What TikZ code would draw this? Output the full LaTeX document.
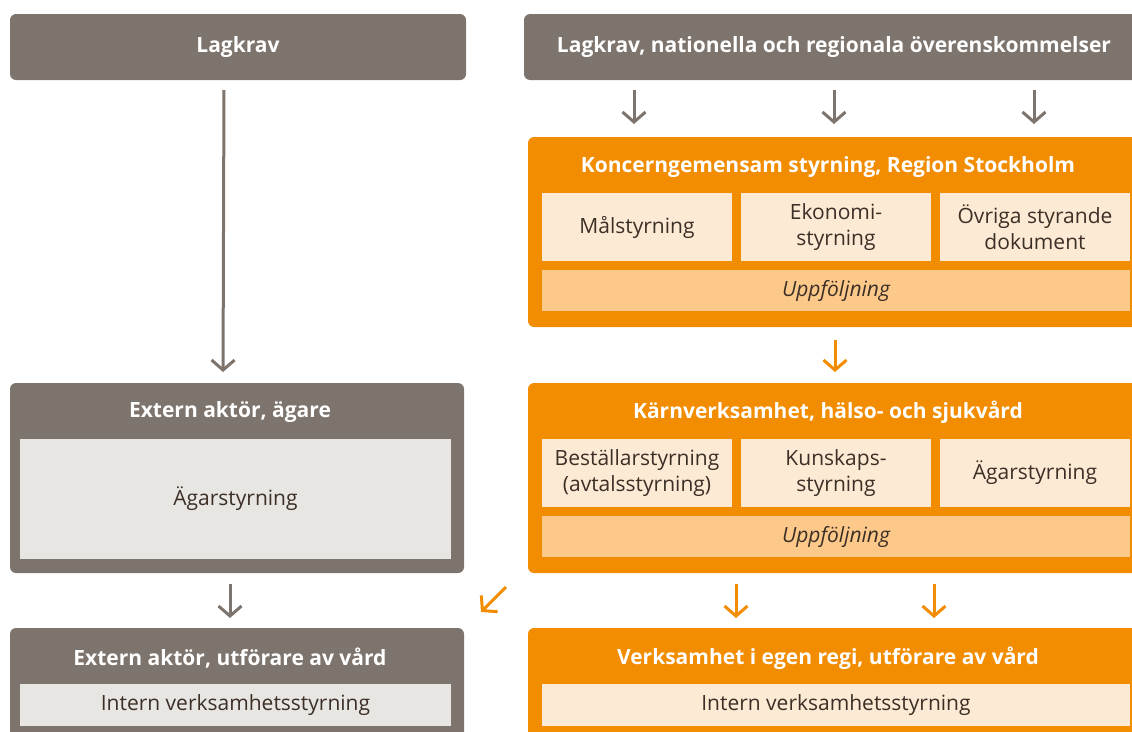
\documentclass[tikz,border=0pt]{standalone}
\usepackage{fontspec}
\setmainfont{Open Sans}
\usetikzlibrary{arrows.meta,positioning,calc}
\definecolor{rsgray}{HTML}{7D746D}
\definecolor{rsorange}{HTML}{F28C00}
\definecolor{rspeach}{HTML}{FDEAD5}
\definecolor{rsdpeach}{HTML}{FDC98A}
\definecolor{rslgray}{HTML}{E8E6E3}
\definecolor{rstext}{HTML}{3B2F26}

\begin{document}
\begin{tikzpicture}[x=1pt,y=-1pt,
  gbox/.style={fill=rsgray,rounded corners=6pt,inner sep=0pt,outer sep=0pt,anchor=north west},
  obox/.style={fill=rsorange,rounded corners=6pt,inner sep=0pt,outer sep=0pt,anchor=north west},
  ttl/.style={text=white,font=\fontsize{21}{24}\selectfont\bfseries},
  sub/.style={fill=rspeach,inner sep=0pt,outer sep=0pt,anchor=north west,minimum width=190,minimum height=68,
    align=center,text=rstext,font=\fontsize{21}{26}\selectfont},
  foll/.style={fill=rsdpeach,inner sep=0pt,outer sep=0pt,anchor=north west,minimum width=588,minimum height=41,
    text=rstext,font=\fontsize{21}{24}\selectfont\itshape},
  gin/.style={fill=rslgray,inner sep=0pt,outer sep=0pt,anchor=north west,minimum width=431,
    text=rstext,font=\fontsize{21}{24}\selectfont},
  garr/.style={draw=rsgray,line width=3pt,-{Straight Barb[length=10pt,width=23pt]}},
  oarr/.style={draw=rsorange,line width=3pt,-{Straight Barb[length=10pt,width=23pt]}}]
\useasboundingbox (0,0) rectangle (1132,731);
\clip (0,0) rectangle (1132,731);

% top row
\node[gbox,minimum width=456,minimum height=66,ttl] (lag) at (10,14) {Lagkrav};
\node[gbox,minimum width=620,minimum height=66,ttl] (lagreg) at (524,14) {Lagkrav, nationella och regionala överenskommelser};

% koncerngemensam styrning
\node[obox,minimum width=616,minimum height=190] (konc) at (528,137) {};
\node[ttl] (konct) at (828,167) {Koncerngemensam styrning, Region Stockholm};
\node[sub] (mal) at (542,193) {Målstyrning};
\node[sub,right=9pt of mal] (eko) {Ekonomi-\\styrning};
\node[sub,right=9pt of eko] (ovr) {Övriga styrande\\dokument};
\node[foll] (uf1) at (542,270) {Uppföljning};

% kärnverksamhet
\node[obox,minimum width=616,minimum height=190] (karn) at (528,383) {};
\node[ttl] (karnt) at (828,412) {Kärnverksamhet, hälso- och sjukvård};
\node[sub] (best) at (542,439) {Beställarstyrning\\(avtalsstyrning)};
\node[sub,right=9pt of best] (kun) {Kunskaps-\\styrning};
\node[sub,right=9pt of kun] (agr) {Ägarstyrning};
\node[foll] (uf2) at (542,516) {Uppföljning};

% extern aktör, ägare
\node[gbox,minimum width=454,minimum height=190] (ext) at (10,383) {};
\node[ttl] (extt) at (230,412) {Extern aktör, ägare};
\node[gin,minimum height=120] (extin) at (20,439) {Ägarstyrning};

% utförare av vård
\node[gbox,minimum width=454,minimum height=112] (utf) at (10,628) {};
\node[ttl] (utft) at (230,658) {Extern aktör, utförare av vård};
\node[gin,minimum height=42] (utfin) at (20,684) {Intern verksamhetsstyrning};
\node[obox,minimum width=616,minimum height=112] (egen) at (528,628) {};
\node[ttl] (egent) at (828,658) {Verksamhet i egen regi, utförare av vård};
\node[sub,minimum width=588,minimum height=42] (egenin) at (542,684) {Intern verksamhetsstyrning};

% arrows
\foreach \x in {634,834,1034}
  \draw[garr,shorten <=10pt,shorten >=13pt] (lagreg.south -| \x,0) -- (konc.north -| \x,0);
\draw[garr,shorten <=10pt,shorten >=11pt] ([xshift=-14pt]lag.south) -- ([xshift=-14pt]ext.north);
\draw[oarr,shorten <=13pt,shorten >=11pt] (konc.south -| 835,0) -- (karn.north -| 835,0);
\draw[garr,shorten <=11pt,shorten >=10pt] ([xshift=-7pt]ext.south) -- ([xshift=-7pt]utf.north);
\foreach \x in {736,934}
  \draw[oarr,shorten <=11pt,shorten >=10pt] (karn.south -| \x,0) -- (egen.north -| \x,0);
\coordinate (dg1) at (506,587);
\coordinate (dg2) at (481,612);
\draw[oarr] (dg1) -- (dg2);
\end{tikzpicture}
\end{document}
